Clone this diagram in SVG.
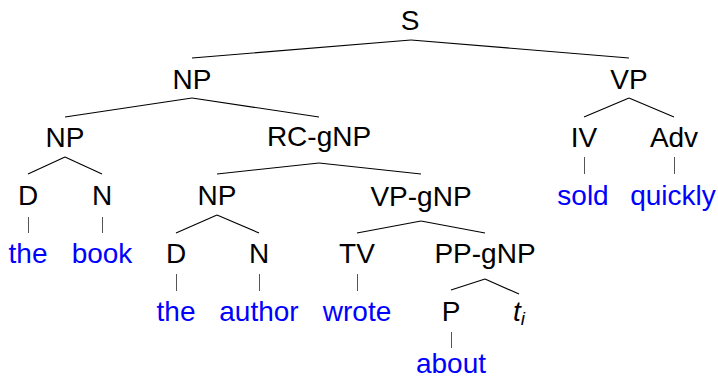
<svg xmlns="http://www.w3.org/2000/svg" width="718" height="380" viewBox="0 0 718 380">
<style>
text{font-family:"Liberation Sans","DejaVu Sans",sans-serif;font-size:28px;text-anchor:middle;fill:#000}
.w{fill:#0000ff}
.e line{stroke:#000;stroke-width:1.1;fill:none}
.e line.v{stroke:#555;stroke-width:1}
</style>
<rect width="718" height="380" fill="#fff"/>
<g class="e" id="edges">
<line x1="411" y1="40" x2="192" y2="58"/>
<line x1="411" y1="40" x2="629" y2="58"/>
<line x1="192" y1="98" x2="65" y2="117"/>
<line x1="192" y1="98" x2="319" y2="117"/>
<line x1="629" y1="98" x2="584" y2="117"/>
<line x1="629" y1="98" x2="674" y2="117"/>
<line x1="65" y1="157" x2="28" y2="174"/>
<line x1="65" y1="157" x2="102" y2="174"/>
<line x1="319" y1="163" x2="217" y2="174"/>
<line x1="319" y1="163" x2="421" y2="174"/>
<line class="v" x1="584.5" y1="157" x2="584.5" y2="174"/>
<line class="v" x1="674.5" y1="157" x2="674.5" y2="174"/>
<line class="v" x1="28.5" y1="217" x2="28.5" y2="233"/>
<line class="v" x1="102.5" y1="217" x2="102.5" y2="233"/>
<line x1="217" y1="215" x2="176" y2="233"/>
<line x1="217" y1="215" x2="259" y2="233"/>
<line x1="421" y1="221" x2="357" y2="233"/>
<line x1="421" y1="221" x2="485" y2="233"/>
<line class="v" x1="176.5" y1="274" x2="176.5" y2="291"/>
<line class="v" x1="259.5" y1="274" x2="259.5" y2="291"/>
<line class="v" x1="357.5" y1="274" x2="357.5" y2="291"/>
<line x1="485" y1="279" x2="451" y2="290"/>
<line x1="485" y1="279" x2="519" y2="294"/>
<line class="v" x1="451.5" y1="332" x2="451.5" y2="348"/>
</g>
<g id="S"><text x="410" y="30">S</text></g>
<g id="NP1"><text x="192" y="89">NP</text></g>
<g id="VP"><text x="629" y="89">VP</text></g>
<g id="NP2"><text x="65" y="147">NP</text></g>
<g id="RCgNP"><text x="319" y="146">RC-gNP</text></g>
<g id="IV"><text x="584" y="147">IV</text></g>
<g id="Adv"><text x="674" y="147">Adv</text></g>
<g id="D1"><text x="28" y="205">D</text></g>
<g id="N1"><text x="102" y="205">N</text></g>
<g id="NP3"><text x="217" y="205">NP</text></g>
<g id="VPgNP"><text x="421" y="206">VP-gNP</text></g>
<g id="sold"><text class="w" x="583" y="205">sold</text></g>
<g id="quickly"><text class="w" x="673" y="205">quickly</text></g>
<g id="the1"><text class="w" x="28" y="263">the</text></g>
<g id="book"><text class="w" x="102" y="263">book</text></g>
<g id="D2"><text x="176" y="263">D</text></g>
<g id="N2"><text x="259" y="263">N</text></g>
<g id="TV"><text x="357" y="263">TV</text></g>
<g id="PPgNP"><text x="485" y="263">PP-gNP</text></g>
<g id="the2"><text class="w" x="176" y="321">the</text></g>
<g id="author"><text class="w" x="259" y="321">author</text></g>
<g id="wrote"><text class="w" x="357" y="321">wrote</text></g>
<g id="P"><text x="451" y="321">P</text></g>
<g id="ti"><text x="519" y="321" font-style="italic">t<tspan font-size="19" dy="4">i</tspan></text></g>
<g id="about"><text class="w" x="451" y="373">about</text></g>
</svg>
